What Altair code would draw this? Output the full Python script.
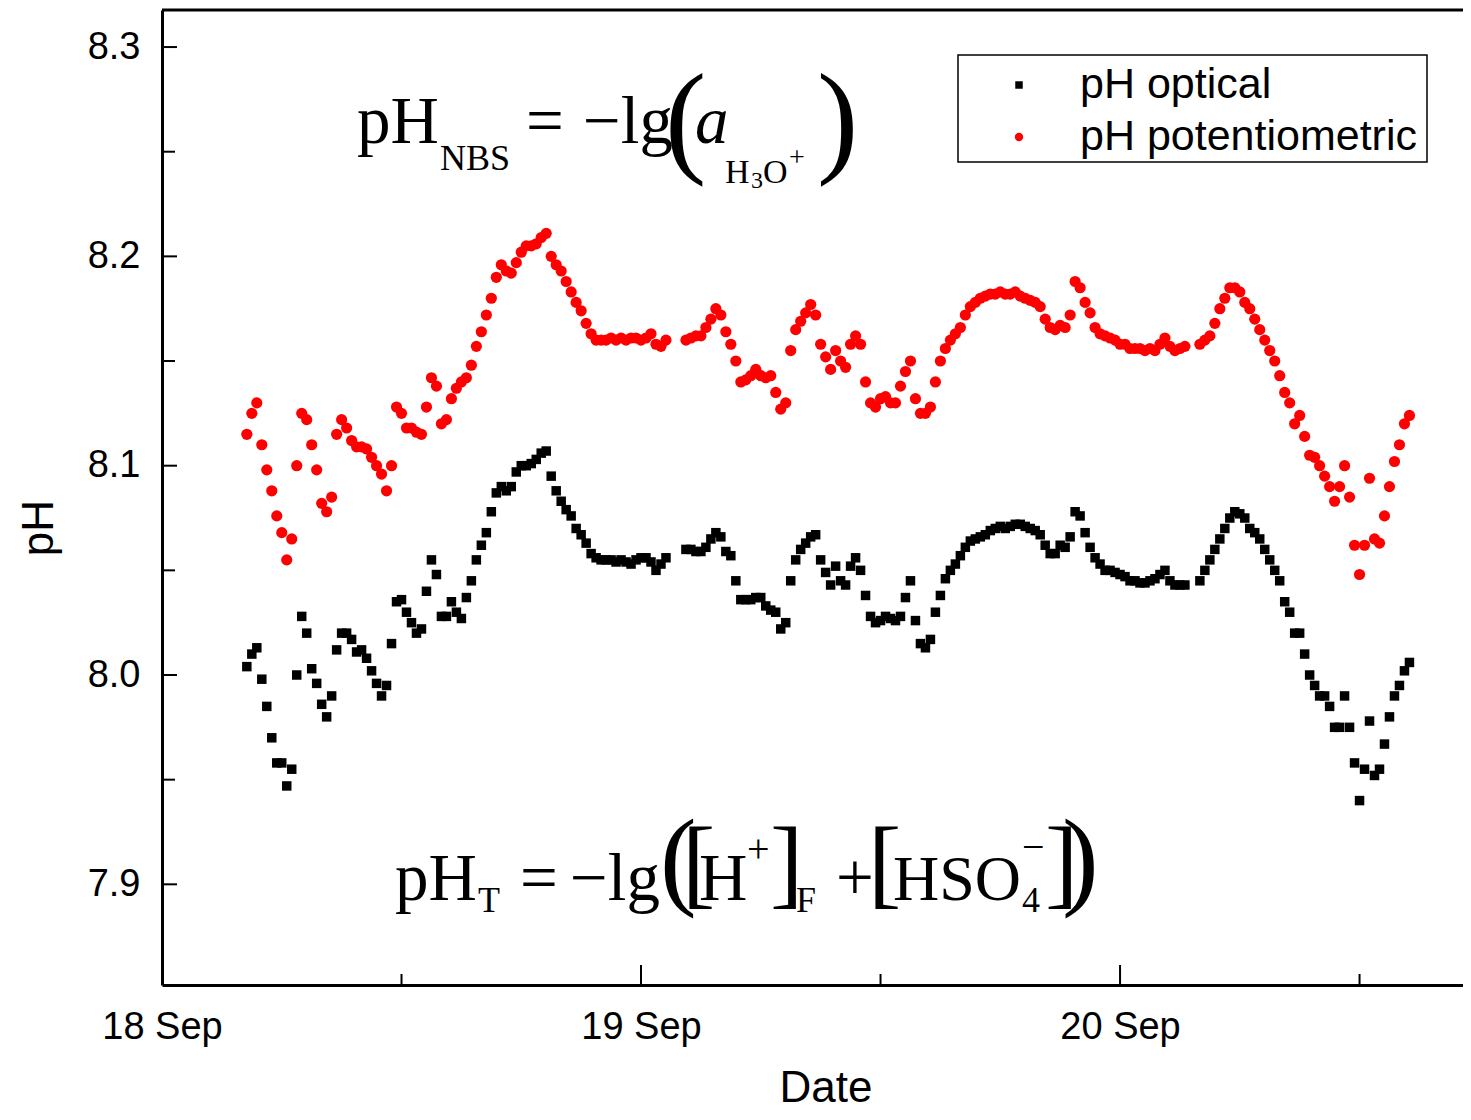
import altair as alt
import pandas as pd

# ---------------- data ----------------
START = "2013-09-18 04:15"
STEP = "15min"
N = None

optical = [
    8.004, 8.010, 8.013, 7.998, 7.985, 7.970, 7.958, 7.958, 7.947, 7.955,
    8.000, 8.028, 8.020, 8.003, 7.996, 7.986, 7.980, 7.990, 8.012, 8.020,
    8.020, 8.017, 8.011, 8.012, 8.008, 8.002, 7.996, 7.990, 7.995, 8.015,
    8.035, 8.036, 8.030, 8.025, 8.020, 8.022, 8.040, 8.055, 8.048, 8.028,
    8.028, 8.035, 8.030, 8.027, 8.037, 8.045, 8.055, 8.062, 8.068, 8.078,
    8.087, 8.090, 8.088, 8.090, 8.097, 8.100, 8.100, 8.101, 8.103, 8.106,
    8.107, 8.095, 8.088, 8.083, 8.079, 8.076, 8.070, 8.067, 8.063, 8.058,
    8.056, 8.055, 8.055, 8.055, 8.054, 8.055, 8.054, 8.053, 8.055, 8.056,
    8.056, 8.054, 8.050, 8.053, 8.056, N, N, N, 8.060, 8.060,
    8.059, 8.059, 8.061, 8.065, 8.068, 8.066, 8.059, 8.057, 8.045, 8.036,
    8.036, 8.036, 8.037, 8.037, 8.033, 8.031, 8.030, 8.022, 8.025, 8.045,
    8.055, 8.060, 8.063, 8.066, 8.067, 8.055, 8.049, 8.043, 8.052, 8.045,
    8.043, 8.052, 8.056, 8.050, 8.038, 8.028, 8.025, 8.026, 8.028, 8.027,
    8.026, 8.028, 8.037, 8.045, 8.026, 8.015, 8.013, 8.017, 8.030, 8.038,
    8.046, 8.050, 8.053, 8.057, 8.061, 8.064, 8.065, 8.066, 8.067, 8.069,
    8.070, 8.071, 8.070, 8.071, 8.072, 8.072, 8.071, 8.070, 8.069, 8.067,
    8.062, 8.058, 8.058, 8.062, 8.061, 8.066, 8.078, 8.076, 8.068, 8.061,
    8.056, 8.053, 8.050, 8.050, 8.049, 8.048, 8.047, 8.045, 8.045, 8.044,
    8.044, 8.045, 8.046, 8.048, 8.050, 8.045, 8.043, 8.043, 8.043, N,
    N, 8.045, 8.050, 8.055, 8.060, 8.065, 8.070, 8.075, 8.078, 8.077,
    8.075, 8.070, 8.068, 8.065, 8.060, 8.055, 8.050, 8.045, 8.035, 8.030,
    8.020, 8.020, 8.010, 8.000, 7.995, 7.990, 7.990, 7.985, 7.975, 7.975,
    7.990, 7.975, 7.958, 7.940, 7.955, 7.978, 7.952, 7.955, 7.967, 7.980,
    7.990, 7.995, 8.002, 8.006,
]

potentiometric = [
    8.115, 8.125, 8.130, 8.110, 8.098, 8.088, 8.076, 8.068, 8.055, 8.065,
    8.100, 8.125, 8.122, 8.110, 8.098, 8.082, 8.078, 8.085, 8.115, 8.122,
    8.118, 8.112, 8.109, 8.109, 8.108, 8.104, 8.100, 8.096, 8.088, 8.100,
    8.128, 8.125, 8.118, 8.118, 8.116, 8.115, 8.128, 8.142, 8.138, 8.120,
    8.122, 8.132, 8.137, 8.140, 8.142, 8.148, 8.157, 8.164, 8.172, 8.180,
    8.190, 8.196, 8.193, 8.192, 8.197, 8.202, 8.205, 8.205, 8.206, 8.209,
    8.211, 8.200, 8.196, 8.193, 8.188, 8.183, 8.178, 8.174, 8.168, 8.163,
    8.160, 8.160, 8.160, 8.161, 8.160, 8.161, 8.160, 8.161, 8.161, 8.160,
    8.161, 8.163, 8.158, 8.157, 8.160, N, N, N, 8.160, 8.161,
    8.162, 8.162, 8.166, 8.170, 8.175, 8.172, 8.164, 8.158, 8.150, 8.140,
    8.141, 8.143, 8.146, 8.143, 8.142, 8.143, 8.135, 8.127, 8.130, 8.155,
    8.165, 8.169, 8.173, 8.177, 8.172, 8.158, 8.152, 8.146, 8.155, 8.150,
    8.147, 8.158, 8.162, 8.158, 8.140, 8.130, 8.128, 8.132, 8.133, 8.130,
    8.130, 8.138, 8.145, 8.150, 8.132, 8.125, 8.125, 8.128, 8.140, 8.150,
    8.156, 8.160, 8.163, 8.166, 8.172, 8.176, 8.178, 8.180, 8.181, 8.182,
    8.182, 8.183, 8.182, 8.182, 8.183, 8.181, 8.180, 8.179, 8.178, 8.176,
    8.170, 8.166, 8.165, 8.167, 8.166, 8.172, 8.188, 8.185, 8.178, 8.173,
    8.166, 8.163, 8.162, 8.161, 8.160, 8.158, 8.158, 8.156, 8.156, 8.156,
    8.155, 8.156, 8.155, 8.158, 8.161, 8.157, 8.155, 8.156, 8.157, N,
    N, 8.158, 8.160, 8.162, 8.168, 8.175, 8.180, 8.185, 8.185, 8.183,
    8.178, 8.175, 8.170, 8.165, 8.160, 8.155, 8.150, 8.143, 8.135, 8.130,
    8.120, 8.124, 8.114, 8.105, 8.104, 8.100, 8.095, 8.090, 8.083, 8.090,
    8.100, 8.085, 8.062, 8.048, 8.062, 8.094, 8.065, 8.063, 8.076, 8.090,
    8.102, 8.110, 8.120, 8.124,
]

SERIES = ["pH optical", "pH potentiometric"]
Y_TICKS = [7.9, 8.0, 8.1, 8.2, 8.3]
Y_MINOR = [7.95, 8.05, 8.15, 8.25]
X_MAJOR = ["2013-09-19T00:00:00", "2013-09-20T00:00:00"]
X_MINOR = ["2013-09-18T12:00:00", "2013-09-19T12:00:00", "2013-09-20T12:00:00"]

# ---------------- build tables ----------------
times = pd.date_range(START, periods=len(optical), freq=STEP)
wide = pd.DataFrame({"time": times, SERIES[0]: optical, SERIES[1]: potentiometric})
df = wide.melt(id_vars="time", var_name="series", value_name="pH").dropna()
df["time"] = df["time"].dt.strftime("%Y-%m-%dT%H:%M:%S")
opt_df = df[df["series"] == SERIES[0]]
pot_df = df[df["series"] == SERIES[1]]

W, H = 1301, 975

x_scale = alt.Scale(domain=[alt.DateTime(year=2013, month=9, date=18),
                            alt.DateTime(year=2013, month=9, date=20, hours=17, minutes=11)])
y_scale = alt.Scale(domain=[7.8519, 8.3177], nice=False, zero=False)

x_axis = alt.Axis(values=[alt.DateTime(year=2013, month=9, date=d) for d in (18, 19, 20)],
                  format="%-d %b", formatType="time", ticks=False, grid=False,
                  domainWidth=3, domainColor="black", labelPadding=23,
                  labelFlush=False, labelOverlap=False, labelBound=False,
                  labelFont="Liberation Sans", labelFontSize=38, labelColor="black",
                  title=None)
y_axis = alt.Axis(values=Y_TICKS, format=".1f", ticks=False, grid=False,
                  domainWidth=3, domainColor="black", labelPadding=22,
                  labelFont="Liberation Sans", labelFontSize=38, labelColor="black",
                  title=None)

X = alt.X("time:T", scale=x_scale, axis=x_axis)
Y = alt.Y("pH:Q", scale=y_scale, axis=y_axis)

opt_layer = alt.Chart(opt_df).mark_square(size=90, color="black", opacity=1).encode(x=X, y=Y)
pot_layer = alt.Chart(pot_df).mark_circle(size=125, color="#ff0000", opacity=1).encode(x=X, y=Y)

one = alt.InlineData(values=[{"k": 0}])

def xticks(vals, length):
    d = pd.DataFrame({"time": vals})
    return alt.Chart(d).mark_rule(color="black", strokeWidth=2).encode(
        x=X, y=alt.value(H), y2=alt.value(H - length))

def yticks(vals, length):
    d = pd.DataFrame({"pH": vals})
    return alt.Chart(d).mark_rule(color="black", strokeWidth=2).encode(
        y=Y, x=alt.value(0), x2=alt.value(length))

def txt(s, x, y, size, font="Liberation Serif", style="normal",
        align="left", baseline="alphabetic", angle=0):
    return alt.Chart(one).mark_text(
        text=s, font=font, fontSize=size, fontStyle=style, align=align,
        baseline=baseline, angle=angle, color="black").encode(
        x=alt.value(x), y=alt.value(y))

top_line = alt.Chart(one).mark_rule(color="black", strokeWidth=3).encode(
    x=alt.value(0), x2=alt.value(W), y=alt.value(0))

legend_box = alt.Chart(one).mark_rect(fill="white", stroke="black", strokeWidth=1.5).encode(
    x=alt.value(796), x2=alt.value(1265), y=alt.value(45), y2=alt.value(152))
leg_sq = alt.Chart(one).mark_square(size=56, color="black", opacity=1).encode(
    x=alt.value(857), y=alt.value(75))
leg_ci = alt.Chart(one).mark_circle(size=70, color="#ff0000", opacity=1).encode(
    x=alt.value(857), y=alt.value(127))
leg_t1 = txt(SERIES[0], 918, 75, 43, font="Liberation Sans", baseline="middle")
leg_t2 = txt(SERIES[1], 918, 127, 43, font="Liberation Sans", baseline="middle")

x_title = txt("Date", 664, 1079, 44, font="Liberation Sans", align="center", baseline="middle")
y_title = txt("pH", -122, 518, 44, font="Liberation Sans", align="center", baseline="middle", angle=270)

# equation 1: pH_NBS = -lg(a_H3O+)
eq1 = [
    txt("pH", 195, 133, 67),
    txt("NBS", 278, 160, 36),
    txt("=", 364, 133, 67),
    txt("\u2212lg", 421, 133, 67),
    txt("(", 503, 150, 124),
    txt("a", 533, 133, 67, style="italic"),
    txt("H", 563, 173, 34),
    txt("3", 589, 178, 24),
    txt("O", 601, 173, 34),
    txt("+", 627, 156, 28),
    txt(")", 655, 150, 124),
]
# equation 2: pH_T = -lg([H+]_F + [HSO4-])
eq2 = [
    txt("pH", 233, 890, 67),
    txt("T", 316, 902, 36),
    txt("=", 358, 890, 67),
    txt("\u2212lg", 408, 890, 67),
    txt("(", 498, 885, 110),
    txt("[", 520, 886, 100),
    txt("H", 537, 890, 67),
    txt("+", 585, 852, 40),
    txt("]", 608, 886, 100),
    txt("F", 634, 902, 36),
    txt("+", 674, 890, 67),
    txt("[", 706, 886, 100),
    txt("HSO", 731, 890, 64),
    txt("\u2212", 860, 850, 40),
    txt("4", 860, 902, 36),
    txt("]", 883, 886, 100),
    txt(")", 900, 885, 110),
]

chart = alt.layer(
    pot_layer, opt_layer,
    xticks(X_MAJOR, 20), xticks(X_MINOR, 11),
    yticks(Y_TICKS, 15), yticks(Y_MINOR, 13),
    top_line, legend_box, leg_sq, leg_ci, leg_t1, leg_t2,
    x_title, y_title, *eq1, *eq2,
).properties(
    width=W, height=H,
    autosize=alt.AutoSizeParams(type="none"),
    padding={"left": 154, "top": 2, "right": 0, "bottom": 127},
    background="white",
).configure_view(stroke=None)

chart.save("out.html", embed_options={"renderer": "svg", "actions": False})
